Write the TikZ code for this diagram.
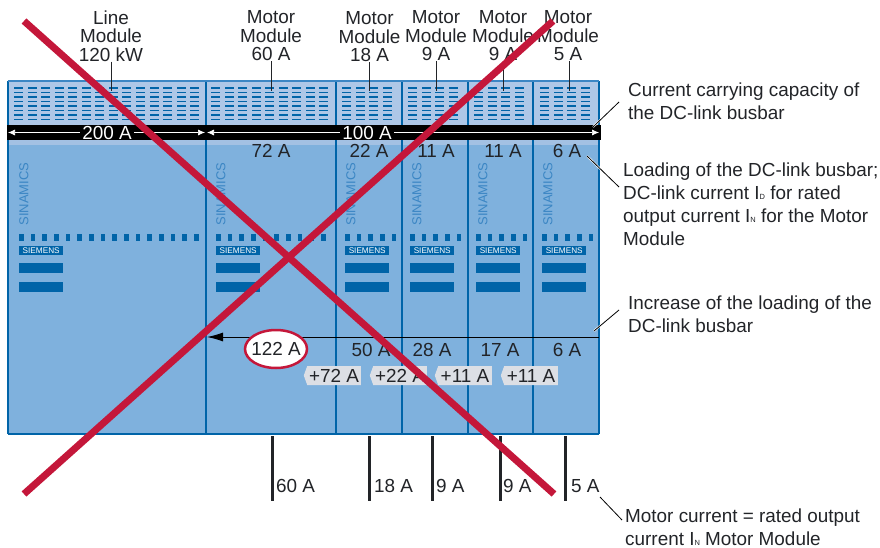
\documentclass[tikz,border=0pt]{standalone}
\usepackage{fontspec}
\setmainfont{Liberation Sans}
\usetikzlibrary{arrows.meta,shapes.symbols,shapes.geometric}
\definecolor{bodyblue}{HTML}{7FB1DD}
\definecolor{headblue}{HTML}{AEC7E7}
\definecolor{stripblue}{HTML}{A3C1E3}
\definecolor{darkblue}{HTML}{0064A8}
\definecolor{nameblue}{HTML}{3B86C4}
\definecolor{crossred}{HTML}{C4173A}
\definecolor{taggray}{HTML}{DCDFE5}
\definecolor{inkgray}{HTML}{222428}
\newcommand{\subidx}[1]{{\fontsize{7.5}{7.5}\selectfont #1}}

\begin{document}
\begin{tikzpicture}[
    x=1pt,y=-1pt,
    every node/.style={text=inkgray,font=\fontsize{18.9}{18.5}\selectfont},
    modlabel/.style={align=center,inner sep=0pt},
    notelabel/.style={align=left,anchor=west,inner sep=0pt,font=\fontsize{18.9}{23}\selectfont},
    amps/.style={inner sep=0pt},
    curlabel/.style={inner sep=0pt,anchor=west},
    leader/.style={draw=black,line width=0.8pt,preaction={draw=white,line width=2pt}},
    bararrow/.style={{Latex[length=7pt,width=6pt]}-{Latex[length=7pt,width=6pt]},white,line width=0.7pt},
    tagbox/.style={shape=signal,signal to=west,signal from=nowhere,signal pointer angle=140,
      fill=taggray,inner sep=0pt,minimum height=19pt,minimum width=57pt},
    badge/.style={fill=darkblue,minimum width=44pt,minimum height=9pt,inner sep=0pt,
      text=white,font=\fontsize{8.2}{9}\selectfont},
    sinamics/.style={rotate=90,text=nameblue,inner sep=0pt,font=\fontsize{13}{14}\selectfont},
    crossline/.style={draw=crossred,line width=7pt}
  ]
  \useasboundingbox (0,0) rectangle (880,548);
  % cabinet
  \fill[bodyblue] (8,81) rectangle (599,434);
  \fill[headblue] (8,81) rectangle (599,125);
  \fill[stripblue] (8,140) rectangle (599,145);
  % vents
  \foreach \xa/\n in {14/14,211/9,342/4,408/4,474/4,540/4} {
    \foreach \c in {1,...,\n} {
      \foreach \yy in {88,92.5,97,101.5,106,110.5,115,119.5} {
        \fill[darkblue] ({\xa+(\c-1)*13.55},\yy-0.9) rectangle ++(9,1.8);
      }
    }
  }
  \foreach \x in {8,206,336,402,468,533,599} {
    \draw[darkblue,line width=2pt] (\x,81) -- (\x,434);
  }
  \draw[darkblue,line width=2pt] (8,434) -- (599,434);
  \draw[nameblue,line width=1.6pt] (8,81) -- (599,81);
  % bar
  \fill[black] (7,125) rectangle (601,140);
  \coordinate (Ba) at (8,132.5);
  \coordinate (Bb) at (205,132.5);
  \coordinate (Bc) at (207,132.5);
  \coordinate (Bd) at (599,132.5);
  \draw[bararrow] (Ba) -- (Bb);
  \draw[bararrow] (Bc) -- (Bd);
  \node[fill=black,text=white,inner sep=2pt,inner ysep=0pt] (Ia) at (107,132.5) {200 A};
  \node[fill=black,text=white,inner sep=2pt,inner ysep=0pt] (Ib) at (367,132.5) {100 A};
  % front panels
  \foreach \i/\xn/\xb/\q in {1/24/19/16,2/221/216/10,3/351/345/5,4/417/410/5,5/483/476/5,6/548/542/5} {
    \node[sinamics] (Name\i) at (\xn,194) {SINAMICS};
    \foreach \c in {1,...,\q} {
      \fill[darkblue] ({\xb+(\c-1)*11.67},234) rectangle ++(4.5,7);
    }
    \node[badge,anchor=north west] (Badge\i) at (\xb,246) {SIEMENS};
    \fill[darkblue] (\xb,263) rectangle ++(44,10);
    \fill[darkblue] (\xb,282) rectangle ++(44,10);
  }
  % module labels
  \node[modlabel] (Mod1) at (111,36) {Line\\Module\\120 kW};
  \node[modlabel] (Mod2) at (271,36) {Motor\\Module\\60 A};
  \node[modlabel] (Mod3) at (369.5,37) {Motor\\Module\\18 A};
  \node[modlabel] (Mod4) at (436,36) {Motor\\Module\\9 A};
  \node[modlabel] (Mod5) at (503,36) {Motor\\Module\\9 A};
  \node[modlabel] (Mod6) at (568,36) {Motor\\Module\\5 A};
  \foreach \i/\x in {1/111,2/271,3/369,4/436,5/503,6/569} {
    \coordinate (Vent\i) at (\x,91);
    \draw[draw=inkgray,line width=1pt] (Mod\i.south -| Vent\i) -- (Vent\i);
  }
  % DC-link current values
  \foreach \x/\t/\nm in {271/72 A/La,369/22 A/Lb,436/11 A/Lc,503/11 A/Ld,567/6 A/Le} {
    \node[amps] (\nm) at (\x,151) {\t};
  }
  % increase of loading
  \coordinate (Ra) at (599,337);
  \coordinate (Rb) at (207,337);
  \draw[-{Latex[length=16pt,width=9pt]},black,line width=0.9pt] (Ra) -- (Rb);
  \node[draw=crossred,fill=white,line width=2.5pt,ellipse,inner ysep=0pt,inner xsep=-4pt,
    minimum width=62pt,minimum height=38pt] (Sum) at (276,349) {122 A};
  \foreach \x/\t/\nm in {371/50 A/Sa,432/28 A/Sb,500/17 A/Sc,567/6 A/Sd} {
    \node[amps] (\nm) at (\x,350) {\t};
  }
  \node[tagbox] (Ta) at (334,375.5) {+72 A};
  \node[tagbox] (Tb) at (400,375.5) {+22 A};
  \node[tagbox] (Tc) at (465,375.5) {+11 A};
  \node[tagbox] (Td) at (531,375.5) {+11 A};
  % motor cables
  \foreach \i/\x/\t/\d in {a/272/60 A/4,b/369/18 A/5,c/432/9 A/4,d/500/9 A/3,e/565/5 A/6} {
    \coordinate (Ca\i) at (\x,436);
    \coordinate (Cb\i) at (\x,501);
    \draw[inkgray,line width=3pt] (Ca\i) -- (Cb\i);
    \node[curlabel] (Cur\i) at (\x+\d,486) {\t};
  }
  % notes
  \node[notelabel] (NoteA) at (628,101.5) {Current carrying capacity of\\the DC-link busbar};
  \node[notelabel] (NoteB) at (623,204.5) {Loading of the DC-link busbar;\\DC-link current I\subidx{D} for rated\\output current I\subidx{N} for the Motor\\Module};
  \node[notelabel] (NoteC) at (628,314.5) {Increase of the loading of the\\DC-link busbar};
  \node[notelabel] (NoteD) at (625,527.5) {Motor current = rated output\\current I\subidx{N} Motor Module};
  \coordinate (Pa) at (619,102);
  \coordinate (Qa) at (593,127);
  \coordinate (Pb) at (619,187);
  \coordinate (Qb) at (587,156);
  \coordinate (Pc) at (619,310);
  \coordinate (Qc) at (594,331);
  \coordinate (Pd) at (622,520);
  \coordinate (Qd) at (600,497);
  \path[leader] (Pa) -- (Qa);
  \path[leader] (Pb) -- (Qb);
  \path[leader] (Pc) -- (Qc);
  \path[leader] (Pd) -- (Qd);
  % crossed out
  \coordinate (Xa) at (24,21);
  \coordinate (Xb) at (554,494);
  \coordinate (Xc) at (553,21);
  \coordinate (Xd) at (24,494);
  \path[crossline] (Xa) -- (Xb);
  \path[crossline] (Xc) -- (Xd);
\end{tikzpicture}
\end{document}
